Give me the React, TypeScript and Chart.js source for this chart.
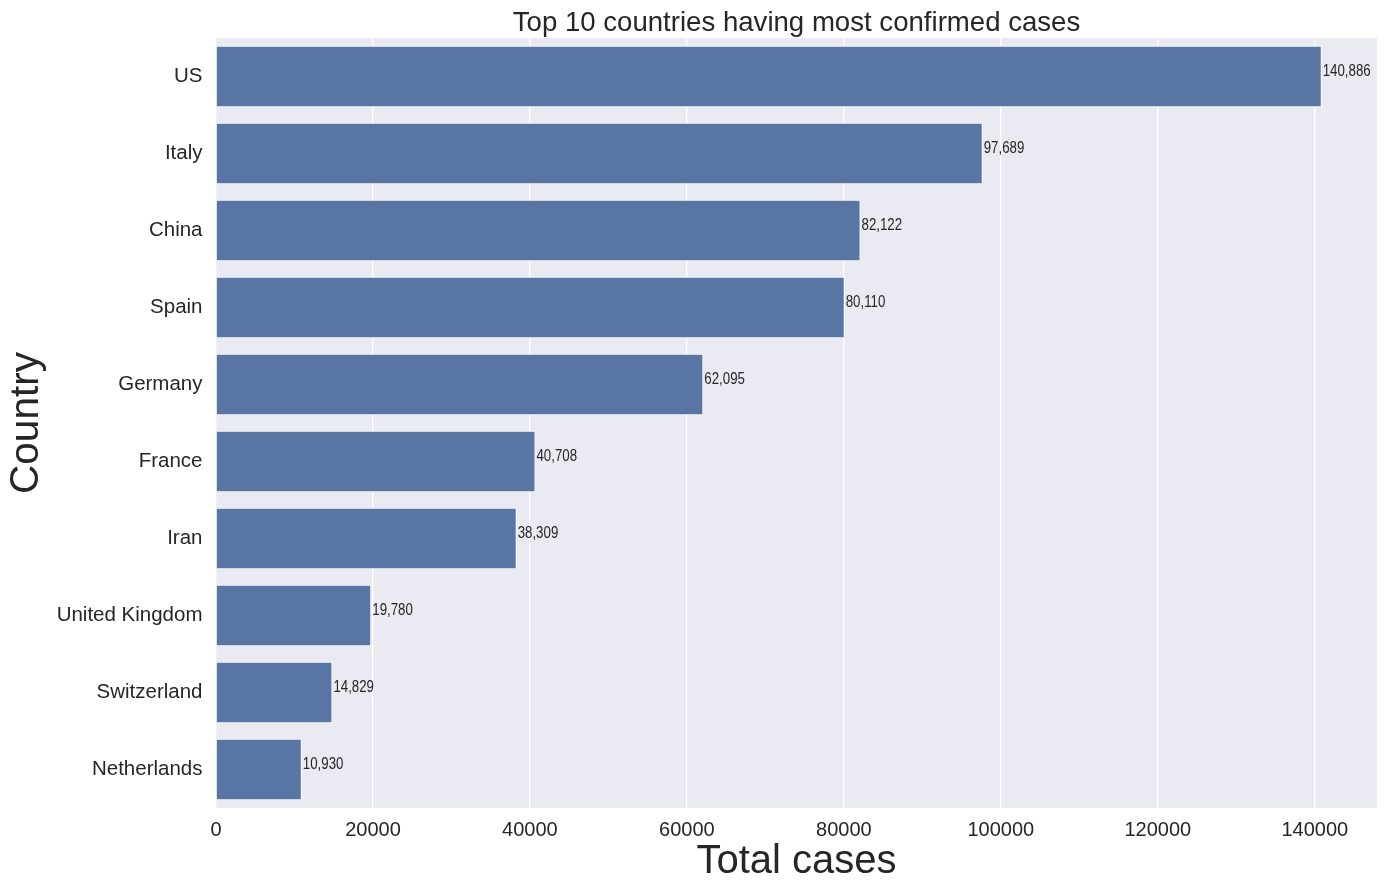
import React, { useEffect, useRef } from "react";
import { Chart, registerables } from "chart.js";

Chart.register(...registerables);

const countries = [
  "US",
  "Italy",
  "China",
  "Spain",
  "Germany",
  "France",
  "Iran",
  "United Kingdom",
  "Switzerland",
  "Netherlands",
];
const totalCases = [140886, 97689, 82122, 80110, 62095, 40708, 38309, 19780, 14829, 10930];
const xTickValues = [0, 20000, 40000, 60000, 80000, 100000, 120000, 140000];
const xMax = 147930;

const TEXT = "#262626";
const FONT = "'Liberation Sans', Arial, Helvetica, sans-serif";

const barLabelPlugin = {
  id: "barLabels",
  afterDatasetsDraw(chart: any) {
    const ctx = chart.ctx;
    const meta = chart.getDatasetMeta(0);
    meta.data.forEach((el: any, i: number) => {
      const v = chart.data.datasets[0].data[i] as number;
      ctx.save();
      ctx.fillStyle = TEXT;
      ctx.font = "16px " + FONT;
      ctx.textAlign = "left";
      ctx.textBaseline = "middle";
      ctx.translate(el.x + 1, el.y - 5);
      ctx.scale(0.83, 1);
      ctx.fillText(v.toLocaleString("en-US"), 0, 0);
      ctx.restore();
    });
  },
};

const bgPlugin = {
  id: "plotBg",
  beforeDraw(chart: any) {
    const { ctx, chartArea } = chart;
    ctx.save();
    ctx.fillStyle = "#EAEAF2";
    ctx.fillRect(chartArea.left, chartArea.top, chartArea.right - chartArea.left, chartArea.bottom - chartArea.top);
    ctx.restore();
  },
};

export default function App() {
  const ref = useRef<HTMLCanvasElement | null>(null);

  useEffect(() => {
    if (!ref.current) return;
    const chart = new Chart(ref.current, {
      type: "bar",
      data: {
        labels: countries,
        datasets: [
          {
            data: totalCases,
            backgroundColor: "#5875A4",
            borderColor: "#ffffff",
            borderWidth: 1,
            barPercentage: 0.8,
            categoryPercentage: 1,
          },
        ],
      },
      plugins: [bgPlugin, barLabelPlugin],
      options: {
        indexAxis: "y",
        animation: false,
        responsive: false,
        devicePixelRatio: 1,
        layout: { padding: { left: 0, right: 11, top: 0, bottom: 0 } },
        plugins: {
          legend: { display: false },
          tooltip: { enabled: false },
          title: {
            display: true,
            fullSize: false,
            text: "Top 10 countries having most confirmed cases",
            color: TEXT,
            font: { family: FONT, size: 27.6, weight: "normal", lineHeight: 1 },
            padding: { top: 10, bottom: 0.4 },
          },
        },
        scales: {
          x: {
            type: "linear",
            min: 0,
            max: xMax,
            afterBuildTicks: (scale: any) => {
              scale.ticks = xTickValues.map((v) => ({ value: v }));
            },
            afterFit: (scale: any) => {
              scale.height = 86;
            },
            ticks: {
              color: TEXT,
              font: { family: FONT, size: 20 },
              padding: 10,
              maxRotation: 0,
              callback: (v: any) => String(v),
            },
            grid: { color: "#ffffff", lineWidth: 1.3, drawTicks: false },
            border: { display: false },
            title: {
              display: true,
              text: "Total cases",
              color: TEXT,
              font: { family: FONT, size: 40, lineHeight: 1.2 },
              padding: { top: 0, bottom: 8.5 },
            },
          },
          y: {
            type: "category",
            afterFit: (scale: any) => {
              scale.width = 216;
            },
            ticks: {
              color: TEXT,
              font: { family: FONT, size: 20.5 },
              padding: 13.5,
            },
            grid: { display: false, drawTicks: false },
            border: { display: false },
            title: {
              display: true,
              text: "Country",
              color: TEXT,
              font: { family: FONT, size: 40.5, lineHeight: 1.2 },
              padding: { top: 3, bottom: 0 },
            },
          },
        },
      },
    } as any);
    return () => chart.destroy();
  }, []);

  return (
    <div style={{ position: "absolute", left: 0, top: 0, width: 1388, height: 894, background: "#ffffff" }}>
      <canvas ref={ref} width={1388} height={894} style={{ display: "block", width: 1388, height: 894 }} />
    </div>
  );
}
